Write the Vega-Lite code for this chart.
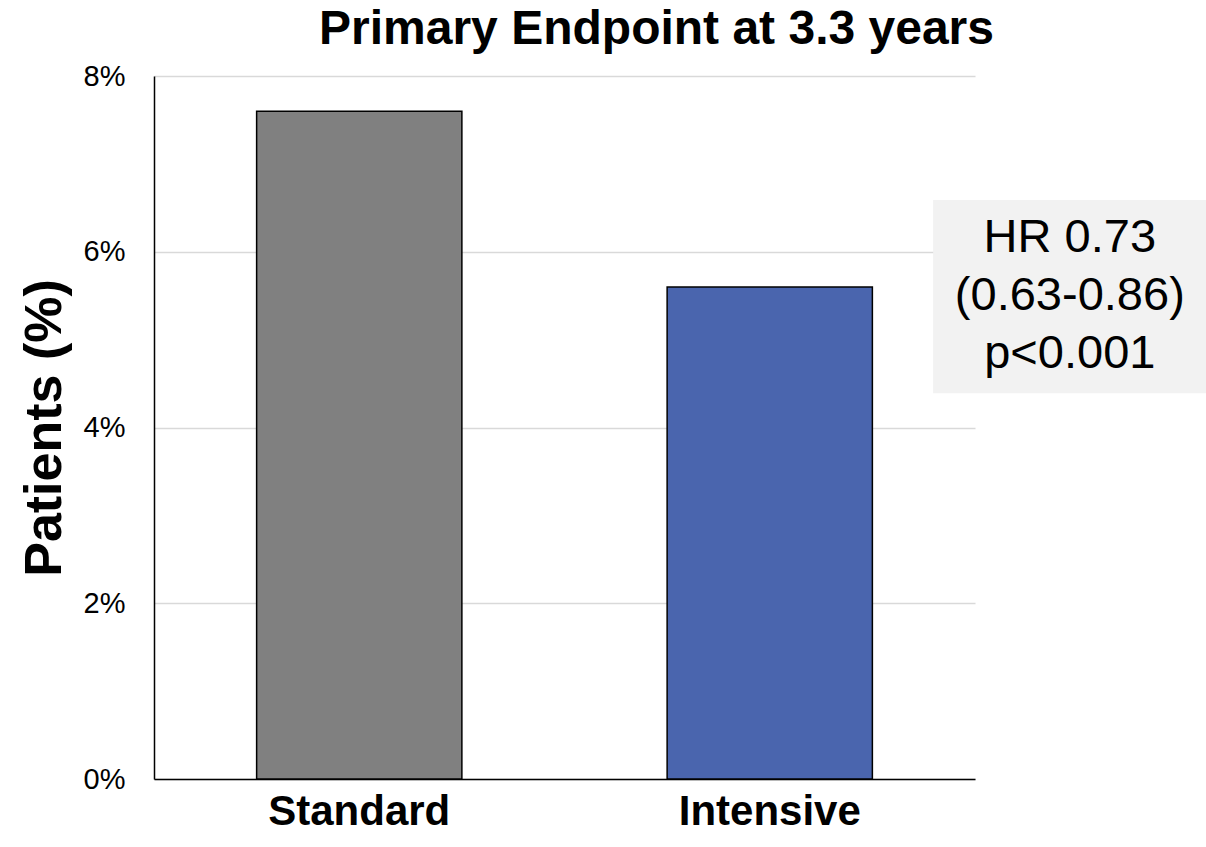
{
  "$schema": "https://vega.github.io/schema/vega-lite/v6.json",
  "width": 821,
  "height": 703,
  "autosize": {"type": "none"},
  "padding": {"left": 154, "top": 76, "right": 231, "bottom": 68},
  "background": "white",
  "title": {
    "text": "Primary Endpoint at 3.3 years",
    "font": "Liberation Sans",
    "fontSize": 48,
    "fontWeight": "bold",
    "color": "black",
    "anchor": "middle",
    "dx": 92,
    "baseline": "bottom",
    "offset": -40
  },
  "config": {
    "view": {"stroke": null},
    "font": "Liberation Sans"
  },
  "resolve": {"scale": {"x": "independent"}, "axis": {"x": "independent"}},
  "layer": [
    {
      "data": {
        "values": [
          {"group": "Standard", "pct": 7.6},
          {"group": "Intensive", "pct": 5.6}
        ]
      },
      "mark": {"type": "bar", "stroke": "black", "strokeWidth": 1.5},
      "encoding": {
        "x": {
          "field": "group",
          "type": "nominal",
          "sort": null,
          "scale": {"paddingInner": 0.5, "paddingOuter": 0.25},
          "axis": {
            "title": null,
            "labelAngle": 0,
            "labelFont": "Liberation Sans",
            "labelFontSize": 42,
            "labelFontWeight": "bold",
            "labelColor": "black",
            "labelLimit": 0,
            "ticks": false,
            "labelPadding": 12,
            "domainColor": "black",
            "domainWidth": 1.5,
            "grid": false
          }
        },
        "y": {
          "field": "pct",
          "type": "quantitative",
          "scale": {"domain": [0, 8]},
          "axis": {
            "title": "Patients (%)",
            "titleFont": "Liberation Sans",
            "titleFontSize": 52,
            "titleFontWeight": "bold",
            "titleColor": "black",
            "titlePadding": 12,
            "values": [0, 2, 4, 6, 8],
            "labelExpr": "datum.value + '%'",
            "labelFont": "Liberation Sans",
            "labelFontSize": 29,
            "labelColor": "black",
            "labelPadding": 29,
            "ticks": false,
            "domainColor": "black",
            "domainWidth": 1.5,
            "grid": true,
            "gridColor": "#d9d9d9",
            "gridWidth": 1.5
          }
        },
        "fill": {
          "field": "group",
          "type": "nominal",
          "scale": {"domain": ["Standard", "Intensive"], "range": ["#808080", "#4A65AE"]},
          "legend": null
        }
      }
    },
    {
      "data": {
        "values": [
          {"x1": 1.898, "x2": 2.6, "y1": 6.59, "y2": 4.39, "xc": 2.231, "yc": 6.156, "label": "HR 0.73\n(0.63-0.86)\np<0.001"}
        ]
      },
      "layer": [
        {
          "mark": {"type": "rect", "fill": "#f2f2f2"},
          "encoding": {
            "x": {"field": "x1", "type": "quantitative", "scale": {"domain": [0, 2]}, "axis": null},
            "x2": {"field": "x2"},
            "y": {"field": "y1", "type": "quantitative"},
            "y2": {"field": "y2"}
          }
        },
        {
          "mark": {
            "type": "text",
            "font": "Liberation Sans",
            "fontSize": 47,
            "color": "black",
            "align": "center",
            "baseline": "middle",
            "lineBreak": "\n",
            "lineHeight": 58
          },
          "encoding": {
            "x": {"field": "xc", "type": "quantitative", "scale": {"domain": [0, 2]}, "axis": null},
            "y": {"field": "yc", "type": "quantitative"},
            "text": {"field": "label"}
          }
        }
      ]
    }
  ]
}
